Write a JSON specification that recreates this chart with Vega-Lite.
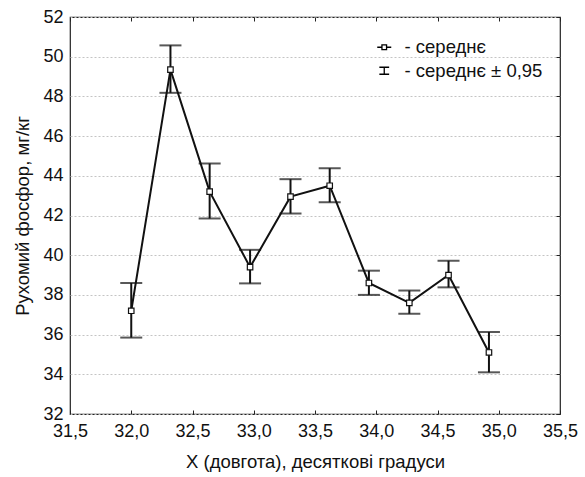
{
  "$schema": "https://vega.github.io/schema/vega-lite/v6.json",
  "autosize": "none",
  "width": 490,
  "height": 397,
  "padding": {"left": 70, "top": 17, "right": 25, "bottom": 63},
  "background": "white",
  "config": {
    "font": "Liberation Sans",
    "view": {"stroke": "#222", "strokeWidth": 1.2},
    "axis": {
      "domain": false,
      "labelFont": "Liberation Sans",
      "labelFontSize": 18,
      "labelColor": "#111",
      "titleFont": "Liberation Sans",
      "titleFontSize": 18.5,
      "titleFontWeight": "normal",
      "titleColor": "#111",
      "tickColor": "#222",
      "grid": false
    },
    "legend": {
      "orient": "none",
      "legendX": 305,
      "legendY": 21,
      "labelFont": "Liberation Sans",
      "labelFontSize": 18.5,
      "labelColor": "#111",
      "symbolSize": 196,
      "symbolStrokeColor": "black",
      "symbolFillColor": "white",
      "symbolStrokeWidth": 1.3,
      "symbolOpacity": 1,
      "rowPadding": 4.5,
      "labelOffset": 11,
      "padding": 0
    }
  },
  "data": {
    "values": [
      {"x": 32.0, "mean": 37.2, "hi": 38.6, "lo": 35.85},
      {"x": 32.32, "mean": 49.35, "hi": 50.57, "lo": 48.18},
      {"x": 32.64, "mean": 43.2, "hi": 44.62, "lo": 41.85},
      {"x": 32.97, "mean": 39.4, "hi": 40.27, "lo": 38.58},
      {"x": 33.3, "mean": 42.95, "hi": 43.83, "lo": 42.1},
      {"x": 33.62, "mean": 43.5, "hi": 44.38, "lo": 42.67},
      {"x": 33.94, "mean": 38.6, "hi": 39.22, "lo": 38.0},
      {"x": 34.27, "mean": 37.6, "hi": 38.22, "lo": 37.05},
      {"x": 34.59, "mean": 39.0, "hi": 39.72, "lo": 38.38},
      {"x": 34.92, "mean": 35.1, "hi": 36.13, "lo": 34.1}
    ]
  },
  "resolve": {"axis": {"x": "independent", "y": "independent"}},
  "layer": [
    {
      "mark": {"type": "rule", "color": "#111", "strokeWidth": 2},
      "encoding": {
        "x": {
          "field": "x", "type": "quantitative",
          "scale": {"domain": [31.5, 35.5], "nice": false, "zero": false},
          "axis": {
            "orient": "bottom",
            "values": [31.5, 32, 32.5, 33, 33.5, 34, 34.5, 35, 35.5],
            "ticks": false,
            "labelPadding": 8,
            "labelFlush": false,
            "labelExpr": "replace(format(datum.value, '.1f'), '.', ',')",
            "title": "X (довгота), десяткові градуси",
            "titlePadding": 12
          }
        },
        "y": {
          "field": "lo", "type": "quantitative",
          "scale": {"domain": [32, 52], "nice": false, "zero": false},
          "axis": {
            "orient": "left",
            "values": [32, 34, 36, 38, 40, 42, 44, 46, 48, 50, 52],
            "ticks": false,
            "grid": true,
            "gridColor": "#c4c4c4",
            "gridDash": [2, 2],
            "gridWidth": 1,
            "labelPadding": 7,
            "labelFlush": false,
            "title": "Рухомий фосфор, мг/кг",
            "titlePadding": 10
          }
        },
        "y2": {"field": "hi"}
      }
    },
    {
      "mark": {"type": "tick", "orient": "horizontal", "color": "#111", "size": 22, "thickness": 2},
      "encoding": {
        "x": {
          "field": "x", "type": "quantitative",
          "scale": {"domain": [31.5, 35.5], "nice": false, "zero": false},
          "axis": {
            "orient": "bottom",
            "values": [31.5, 32, 32.5, 33, 33.5, 34, 34.5, 35, 35.5],
            "labels": false,
            "ticks": true,
            "tickSize": -4,
            "title": null
          }
        },
        "y": {
          "field": "hi", "type": "quantitative",
          "scale": {"domain": [32, 52], "nice": false, "zero": false},
          "axis": {
            "orient": "right",
            "values": [32, 34, 36, 38, 40, 42, 44, 46, 48, 50, 52],
            "labels": false,
            "ticks": true,
            "tickSize": -4,
            "title": null
          }
        }
      }
    },
    {
      "mark": {"type": "tick", "orient": "horizontal", "color": "#111", "size": 22, "thickness": 2},
      "encoding": {
        "x": {
          "field": "x", "type": "quantitative",
          "scale": {"domain": [31.5, 35.5], "nice": false, "zero": false},
          "axis": {
            "orient": "top",
            "values": [31.5, 32, 32.5, 33, 33.5, 34, 34.5, 35, 35.5],
            "labels": false,
            "ticks": true,
            "tickSize": -4,
            "title": null
          }
        },
        "y": {
          "field": "lo", "type": "quantitative",
          "scale": {"domain": [32, 52], "nice": false, "zero": false},
          "axis": null
        }
      }
    },
    {
      "mark": {"type": "line", "color": "#111", "strokeWidth": 2},
      "encoding": {
        "x": {"field": "x", "type": "quantitative", "scale": {"domain": [31.5, 35.5], "nice": false, "zero": false}, "axis": null},
        "y": {"field": "mean", "type": "quantitative", "scale": {"domain": [32, 52], "nice": false, "zero": false}, "axis": null}
      }
    },
    {
      "mark": {"type": "point", "shape": "square", "filled": true, "fill": "white", "stroke": "#111", "strokeWidth": 1.2, "size": 30, "opacity": 1},
      "encoding": {
        "x": {"field": "x", "type": "quantitative", "scale": {"domain": [31.5, 35.5], "nice": false, "zero": false}, "axis": null},
        "y": {"field": "mean", "type": "quantitative", "scale": {"domain": [32, 52], "nice": false, "zero": false}, "axis": null}
      }
    },
    {
      "mark": {"type": "point", "opacity": 0},
      "encoding": {
        "x": {"field": "x", "type": "quantitative", "scale": {"domain": [31.5, 35.5], "nice": false, "zero": false}, "axis": null},
        "y": {"field": "mean", "type": "quantitative", "scale": {"domain": [32, 52], "nice": false, "zero": false}, "axis": null},
        "shape": {
          "datum": "- середнє",
          "scale": {
            "domain": ["- середнє", "- середнє ± 0,95"],
            "range": [
              "M-1,0 L-0.33,0 M0.33,0 L1,0 M-0.33,-0.33 L0.33,-0.33 L0.33,0.33 L-0.33,0.33 Z",
              "M-0.7,-0.5 L0.7,-0.5 M0,-0.5 L0,0.5 M-0.7,0.5 L0.7,0.5"
            ]
          },
          "legend": {"title": null}
        }
      }
    },
    {
      "mark": {"type": "point", "opacity": 0},
      "encoding": {
        "x": {"field": "x", "type": "quantitative", "scale": {"domain": [31.5, 35.5], "nice": false, "zero": false}, "axis": null},
        "y": {"field": "mean", "type": "quantitative", "scale": {"domain": [32, 52], "nice": false, "zero": false}, "axis": null},
        "shape": {"datum": "- середнє ± 0,95"}
      }
    }
  ]
}
